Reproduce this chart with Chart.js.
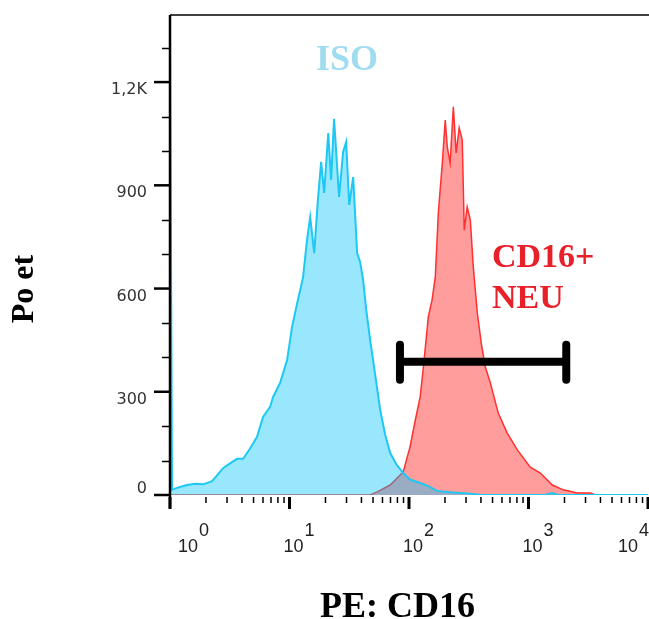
<!DOCTYPE html>
<html>
<head>
<meta charset="utf-8">
<script src="https://cdn.jsdelivr.net/npm/chart.js@4/dist/chart.umd.min.js"></script>
<style>
  html, body { margin: 0; padding: 0; background: #fff; }
  #wrap { width: 649px; height: 619px; }
</style>
</head>
<body>
<div id="wrap"><canvas id="facsChart"></canvas></div>
<script>
// ISO (isotype control) histogram: PE fluorescence vs. event count
const isoCd16 = [1.0, 1.04, 1.17, 1.39, 1.62, 1.89, 2.25, 2.78, 3.18, 3.64, 4.09, 4.68, 5.35, 6.01, 6.88, 7.29, 8.34, 9.55, 10.5, 11.6, 12.3, 13.0, 14.0, 14.9, 16.1, 17.3, 18.4, 19.5, 21.1, 22.3, 23.6, 26.0, 28.1, 29.8, 31.6, 34.1, 36.8, 39.0, 41.3, 43.8, 47.3, 52.1, 57.4, 63.2, 69.6, 78.1, 89.4, 102, 124, 145, 172, 221, 326, 395, 581, 1383, 1582, 1778, 10000];
const isoCounts = [1350, 15, 22, 29, 33, 31, 40, 78, 92, 105, 105, 135, 169, 227, 256, 285, 326, 392, 488, 558, 596, 634, 740, 808, 703, 860, 968, 878, 1052, 916, 1093, 866, 997, 1026, 843, 924, 703, 677, 625, 540, 450, 350, 247, 175, 122, 90, 64, 45, 35, 26, 12, 8, 4, 1, 0, 0, 6, 0, 0];

// CD16+ neutrophils histogram
const neuCd16 = [1, 47.3, 54.2, 69.6, 89.4, 102, 113, 124, 132, 145, 156, 166, 176, 190, 201, 209, 221, 235, 248, 263, 279, 290, 307, 326, 345, 373, 403, 435, 479, 558, 664, 806, 1035, 1256, 1582, 1956, 2563, 3295, 3627, 10000];
const neuCounts = [0, 0, 9, 29, 67, 140, 218, 285, 372, 517, 567, 634, 820, 965, 1090, 1012, 965, 1128, 994, 1067, 1032, 770, 837, 799, 663, 529, 440, 372, 326, 238, 180, 131, 81, 64, 29, 15, 6, 6, 0, 0];

// Axis ticks
const yMajorTicks = [0, 300, 600, 900, 1200];
const yTickLabels = ["0", "300", "600", "900", "1,2K"];
const yMinorTicks = [100, 200, 400, 500, 700, 800, 1000, 1100, 1300];
const xDecades = [0, 1, 2, 3, 4];

// Gate marker (CD16+ region)
const gateFrom = 84;
const gateTo = 2070;
const gateCount = 387;

const serif = '"Liberation Serif", "Times New Roman", serif';

function toPoints(xs, ys) {
    return xs.map((v, i) => ({ x: v, y: ys[i] }));
}

// Axes, ticks and labels drawn from the chart's own scales
const facsAxes = {
    id: "facsAxes",
    afterDatasetsDraw(chart) {
        const { ctx, scales: { x, y } } = chart;
        // gate bar
        const g1 = x.getPixelForValue(gateFrom);
        const g2 = x.getPixelForValue(gateTo);
        const gy = y.getPixelForValue(gateCount);
        ctx.save();
        ctx.strokeStyle = "#000";
        ctx.lineCap = "round";
        ctx.lineWidth = 8;
        ctx.beginPath();
        ctx.moveTo(g1, gy); ctx.lineTo(g2, gy);
        ctx.moveTo(g1, gy - 17); ctx.lineTo(g1, gy + 18);
        ctx.moveTo(g2, gy - 17); ctx.lineTo(g2, gy + 18);
        ctx.stroke();
        ctx.restore();
    },
    afterDraw(chart) {
        const { ctx, chartArea: a, scales: { x, y } } = chart;
        ctx.save();
        ctx.strokeStyle = "#000";

        // frame: left axis and top line
        ctx.lineWidth = 2.5;
        ctx.beginPath();
        ctx.moveTo(a.left, a.bottom + 13);
        ctx.lineTo(a.left, a.top);
        ctx.stroke();
        ctx.lineWidth = 1.5;
        ctx.beginPath();
        ctx.moveTo(a.left, a.top);
        ctx.lineTo(chart.width, a.top);
        ctx.stroke();

        // y ticks
        ctx.lineWidth = 1.5;
        yMinorTicks.forEach(v => {
            const py = Math.round(y.getPixelForValue(v)) + 0.5;
            ctx.beginPath(); ctx.moveTo(a.left - 8, py); ctx.lineTo(a.left, py); ctx.stroke();
        });
        ctx.lineWidth = 2.5;
        ctx.fillStyle = "#333";
        ctx.font = '16px "DejaVu Sans", sans-serif';
        ctx.textAlign = "right";
        ctx.textBaseline = "middle";
        yMajorTicks.forEach((v, i) => {
            const py = y.getPixelForValue(v);
            ctx.beginPath(); ctx.moveTo(a.left - 16, py); ctx.lineTo(a.left, py); ctx.stroke();
            const ly = v === 0 ? py - 6 : py + 8;
            ctx.fillText(yTickLabels[i], a.left - 23, ly);
        });

        // x ticks (log decades with minor ticks)
        xDecades.forEach(d => {
            for (let k = 1; k <= 9; k++) {
                if (d === 4 && k > 1) break;
                const px = x.getPixelForValue(k * Math.pow(10, d));
                const major = k === 1;
                ctx.lineWidth = major ? 3 : 1.5;
                ctx.beginPath();
                ctx.moveTo(px, a.bottom + 2);
                ctx.lineTo(px, a.bottom + (major ? 14 : 8));
                ctx.stroke();
            }
        });

        // x tick labels: 10 with superscript exponent
        ctx.font = '18px "Liberation Sans", Arial, sans-serif';
        ctx.fillStyle = "#222";
        ctx.textAlign = "left";
        ctx.textBaseline = "alphabetic";
        xDecades.forEach(d => {
            const px = x.getPixelForValue(Math.pow(10, d));
            const base = "10", sup = String(d);
            const wb = ctx.measureText(base).width;
            const ws = ctx.measureText(sup).width;
            let left = px + 9 - (wb + ws) / 2;
            left = Math.max(left, a.left + 8);
            left = Math.min(left, chart.width - (wb + ws) - 1);
            ctx.fillText(base, left, a.bottom + 57);
            ctx.fillText(sup, left + wb + 1, a.bottom + 41);
        });

        // axis titles
        ctx.fillStyle = "#000";
        ctx.font = "bold 36px " + serif;
        ctx.textAlign = "center";
        ctx.fillText("PE: CD16", (a.left + chart.width) / 2 - 12, a.bottom + 122);
        ctx.save();
        ctx.translate(33, 289);
        ctx.rotate(-Math.PI / 2);
        ctx.font = "bold 32px " + serif;
        ctx.fillText("Po et", 0, 0);
        ctx.restore();

        // population labels
        ctx.textAlign = "left";
        ctx.font = "bold 36px " + serif;
        ctx.fillStyle = "#9fdcf0";
        ctx.fillText("ISO", 316, 70);
        ctx.font = "bold 34px " + serif;
        ctx.fillStyle = "#e8202a";
        ctx.fillText("CD16+", 492, 267);
        ctx.fillText("NEU", 492, 308);
        ctx.restore();
    }
};

const ctx = document.getElementById("facsChart").getContext("2d");
new Chart(ctx, {
    type: "line",
    data: {
        datasets: [
            {
                label: "ISO",
                data: toPoints(isoCd16, isoCounts),
                borderColor: "#1ec8f5",
                backgroundColor: "rgba(0, 195, 250, 0.4)",
                borderWidth: 2,
                fill: "origin",
                pointRadius: 0,
                tension: 0
            },
            {
                label: "CD16+ NEU",
                data: toPoints(neuCd16, neuCounts),
                borderColor: "#ff3030",
                backgroundColor: "rgba(255, 60, 60, 0.5)",
                borderWidth: 1.5,
                fill: "origin",
                pointRadius: 0,
                tension: 0
            }
        ]
    },
    options: {
        responsive: true,
        maintainAspectRatio: false,
        animation: false,
        layout: {
            padding: { left: 170, right: 1, top: 15, bottom: 124 }
        },
        plugins: {
            legend: { display: false },
            tooltip: { enabled: false }
        },
        scales: {
            x: {
                type: "logarithmic",
                min: 1,
                max: 10000,
                display: false
            },
            y: {
                min: 0,
                max: 1395,
                display: false
            }
        }
    },
    plugins: [facsAxes]
});
</script>
</body>
</html>
